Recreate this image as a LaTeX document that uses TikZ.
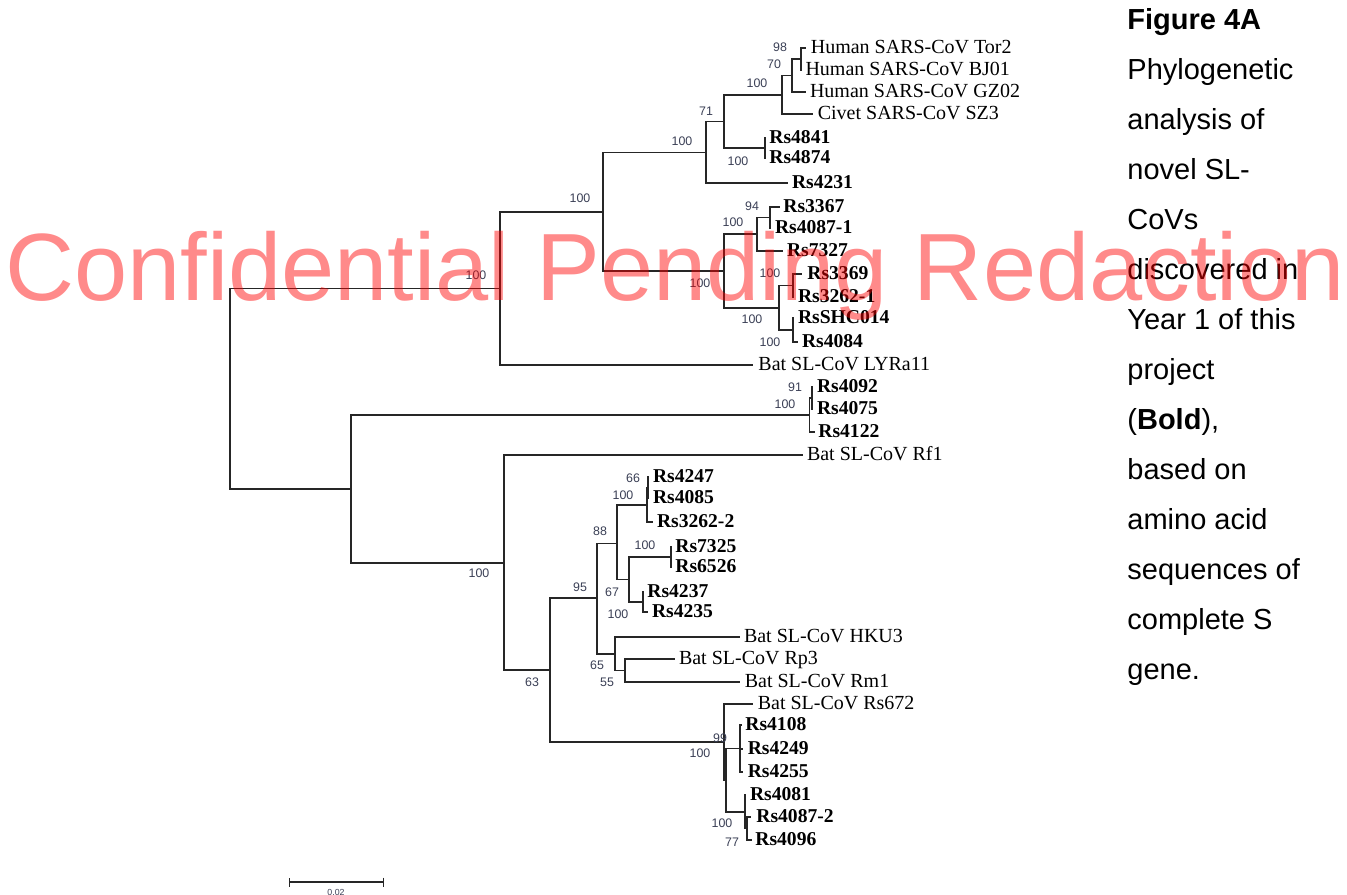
\documentclass[tikz,border=0pt]{standalone}
\usepackage{fontspec}
\setmainfont{Liberation Serif}
\setsansfont{Liberation Sans}
\usepackage{xcolor}
\definecolor{treeLine}{HTML}{262626}
\definecolor{bootGray}{HTML}{3A3F55}
\definecolor{markRed}{HTML}{FF0000}
\usetikzlibrary{arrows.meta,positioning}
\tikzset{
    branch/.style={
        draw=treeLine,
        line width=0.65pt
    },
    leaf/.style={
        anchor=west,
        inner sep=0pt,
        text height=5.7pt,
        text depth=0pt,
        font=\fontsize{10}{11}\selectfont
    },
    leafbold/.style={
        leaf,
        font=\fontsize{9.8}{11}\selectfont\bfseries
    },
    boot/.style={
        inner sep=0pt,
        text=bootGray,
        font=\sffamily\fontsize{6.2}{7}\selectfont
    },
    scalelbl/.style={
        inner sep=0pt,
        text=bootGray,
        font=\sffamily\fontsize{4.4}{5}\selectfont
    },
    caption/.style={
        anchor=north west,
        inner sep=0pt,
        align=left,
        font=\sffamily\fontsize{14.5}{25}\selectfont
    },
    watermark/.style={
        anchor=base west,
        inner sep=0pt,
        text=markRed,
        text opacity=0.46,
        font=\sffamily\fontsize{47.8}{50}\selectfont
    }
}

\begin{document}
\begin{tikzpicture}[x=0.5pt, y=-0.5pt]
    \useasboundingbox (0,0) rectangle (1347,894);

    % Inner nodes of the tree
    \coordinate (root) at (230,388.5);
    \coordinate (nA) at (500,288.5);
    \coordinate (nA1) at (603,212);
    \coordinate (nS) at (706,152.5);
    \coordinate (n71) at (724,121.5);
    \coordinate (nC) at (782,95);
    \coordinate (nH) at (792,75.5);
    \coordinate (nTB) at (801,59);
    \coordinate (nRs48) at (765,148);
    \coordinate (nR) at (724,271);
    \coordinate (n757) at (757,234);
    \coordinate (n770) at (770,217.5);
    \coordinate (n779) at (779,308);
    \coordinate (n793a) at (793,285.5);
    \coordinate (n793b) at (793,330);
    \coordinate (nB) at (351,489);
    \coordinate (n810) at (809.5,415);
    \coordinate (n812) at (812,398);
    \coordinate (n504) at (504,563);
    \coordinate (n550) at (550,670);
    \coordinate (n597) at (597,598);
    \coordinate (n617) at (617,543.5);
    \coordinate (n647) at (647,505);
    \coordinate (n648) at (648,487.5);
    \coordinate (n629) at (629,579.5);
    \coordinate (n671) at (671,557);
    \coordinate (n643) at (643,602);
    \coordinate (n615) at (615,654);
    \coordinate (n625) at (625,670.5);
    \coordinate (n724) at (724,742);
    \coordinate (n726) at (726,780);
    \coordinate (n740) at (740,748.5);
    \coordinate (n745) at (745,812);
    \coordinate (n747) at (747,828.5);

    % Tips
    \coordinate (tTor2) at (806,48);
    \coordinate (tBJ01) at (801.5,70);
    \coordinate (tGZ02) at (806,92);
    \coordinate (tSZ3) at (813,114);
    \coordinate (tRs4841) at (766,138);
    \coordinate (tRs4874) at (766,158);
    \coordinate (tRs4231) at (788,183);
    \coordinate (tRs3367) at (780,207);
    \coordinate (tRs4087a) at (771,228);
    \coordinate (tRs7327) at (783,251);
    \coordinate (tRs3369) at (802,274);
    \coordinate (tRs3262a) at (794,297);
    \coordinate (tRsSHC014) at (794,318);
    \coordinate (tRs4084) at (798,342);
    \coordinate (tLYRa11) at (753,365);
    \coordinate (tRs4092) at (813,387);
    \coordinate (tRs4075) at (813,409);
    \coordinate (tRs4122) at (815,432);
    \coordinate (tRf1) at (803,455);
    \coordinate (tRs4247) at (649,477);
    \coordinate (tRs4085) at (649,498);
    \coordinate (tRs3262b) at (653,522);
    \coordinate (tRs7325) at (672,547);
    \coordinate (tRs6526) at (672,567);
    \coordinate (tRs4237) at (644,592);
    \coordinate (tRs4235) at (648,612);
    \coordinate (tHKU3) at (740,637);
    \coordinate (tRp3) at (675,659);
    \coordinate (tRm1) at (740,682);
    \coordinate (tRs672) at (753,704);
    \coordinate (tRs4108) at (742,725);
    \coordinate (tRs4249) at (743,749);
    \coordinate (tRs4255) at (743,772);
    \coordinate (tRs4081) at (746,795);
    \coordinate (tRs4087b) at (751,817);
    \coordinate (tRs4096) at (752,840);

    % Leaf labels
    \node[leaf, right=2.2pt of tTor2] (Tor2) {Human SARS-CoV Tor2};
    \node[leaf, right=1.8pt of tBJ01] (BJ01) {Human SARS-CoV BJ01};
    \node[leaf, right=1.8pt of tGZ02] (GZ02) {Human SARS-CoV GZ02};
    \node[leaf, right=2.2pt of tSZ3] (SZ3) {Civet SARS-CoV SZ3};
    \node[leafbold, right=1.5pt of tRs4841] (Rs4841) {Rs4841};
    \node[leafbold, right=1.5pt of tRs4874] (Rs4874) {Rs4874};
    \node[leafbold, right=1.8pt of tRs4231] (Rs4231) {Rs4231};
    \node[leafbold, right=1.5pt of tRs3367] (Rs3367) {Rs3367};
    \node[leafbold, right=1.8pt of tRs4087a] (Rs4087a) {Rs4087-1};
    \node[leafbold, right=1.8pt of tRs7327] (Rs7327) {Rs7327};
    \node[leafbold, right=2.5pt of tRs3369] (Rs3369) {Rs3369};
    \node[leafbold, right=1.8pt of tRs3262a] (Rs3262a) {Rs3262-1};
    \node[leafbold, right=1.8pt of tRsSHC014] (RsSHC014) {RsSHC014};
    \node[leafbold, right=1.8pt of tRs4084] (Rs4084) {Rs4084};
    \node[leaf, right=2.5pt of tLYRa11] (LYRa11) {Bat SL-CoV LYRa11};
    \node[leafbold, right=1.8pt of tRs4092] (Rs4092) {Rs4092};
    \node[leafbold, right=1.8pt of tRs4075] (Rs4075) {Rs4075};
    \node[leafbold, right=1.5pt of tRs4122] (Rs4122) {Rs4122};
    \node[leaf, right=1.8pt of tRf1] (Rf1) {Bat SL-CoV Rf1};
    \node[leafbold, right=1.8pt of tRs4247] (Rs4247) {Rs4247};
    \node[leafbold, right=1.8pt of tRs4085] (Rs4085) {Rs4085};
    \node[leafbold, right=1.8pt of tRs3262b] (Rs3262b) {Rs3262-2};
    \node[leafbold, right=1.5pt of tRs7325] (Rs7325) {Rs7325};
    \node[leafbold, right=1.5pt of tRs6526] (Rs6526) {Rs6526};
    \node[leafbold, right=1.5pt of tRs4237] (Rs4237) {Rs4237};
    \node[leafbold, right=1.8pt of tRs4235] (Rs4235) {Rs4235};
    \node[leaf, right=1.8pt of tHKU3] (HKU3) {Bat SL-CoV HKU3};
    \node[leaf, right=1.8pt of tRp3] (Rp3) {Bat SL-CoV Rp3};
    \node[leaf, right=2.2pt of tRm1] (Rm1) {Bat SL-CoV Rm1};
    \node[leaf, right=2.2pt of tRs672] (Rs672) {Bat SL-CoV Rs672};
    \node[leafbold, right=1.5pt of tRs4108] (Rs4108) {Rs4108};
    \node[leafbold, right=2.2pt of tRs4249] (Rs4249) {Rs4249};
    \node[leafbold, right=2.2pt of tRs4255] (Rs4255) {Rs4255};
    \node[leafbold, right=1.8pt of tRs4081] (Rs4081) {Rs4081};
    \node[leafbold, right=2.5pt of tRs4087b] (Rs4087b) {Rs4087-2};
    \node[leafbold, right=1.5pt of tRs4096] (Rs4096) {Rs4096};

    % Branches
    \draw[branch] (root) |- (nA);
    \draw[branch] (root) |- (nB);
    \draw[branch] (nA) |- (nA1);
    \draw[branch] (nA) |- (tLYRa11);
    \draw[branch] (nA1) |- (nS);
    \draw[branch] (nA1) |- (nR);
    \draw[branch] (nS) |- (n71);
    \draw[branch] (nS) |- (tRs4231);
    \draw[branch] (n71) |- (nC);
    \draw[branch] (n71) |- (nRs48);
    \draw[branch] (nC) |- (nH);
    \draw[branch] (nC) |- (tSZ3);
    \draw[branch] (nH) |- (nTB);
    \draw[branch] (nH) |- (tGZ02);
    \draw[branch] (nTB) |- (tTor2);
    \draw[branch] (nTB) |- (tBJ01);
    \draw[branch] (nRs48) |- (tRs4841);
    \draw[branch] (nRs48) |- (tRs4874);
    \draw[branch] (nR) |- (n757);
    \draw[branch] (nR) |- (n779);
    \draw[branch] (n757) |- (n770);
    \draw[branch] (n757) |- (tRs7327);
    \draw[branch] (n770) |- (tRs3367);
    \draw[branch] (n770) |- (tRs4087a);
    \draw[branch] (n779) |- (n793a);
    \draw[branch] (n779) |- (n793b);
    \draw[branch] (n793a) |- (tRs3369);
    \draw[branch] (n793a) |- (tRs3262a);
    \draw[branch] (n793b) |- (tRsSHC014);
    \draw[branch] (n793b) |- (tRs4084);
    \draw[branch] (nB) |- (n810);
    \draw[branch] (nB) |- (n504);
    \draw[branch] (n810) |- (n812);
    \draw[branch] (n810) |- (tRs4122);
    \draw[branch] (n812) |- (tRs4092);
    \draw[branch] (n812) |- (tRs4075);
    \draw[branch] (n504) |- (tRf1);
    \draw[branch] (n504) |- (n550);
    \draw[branch] (n550) |- (n597);
    \draw[branch] (n550) |- (n724);
    \draw[branch] (n597) |- (n617);
    \draw[branch] (n597) |- (n615);
    \draw[branch] (n617) |- (n647);
    \draw[branch] (n617) |- (n629);
    \draw[branch] (n647) |- (n648);
    \draw[branch] (n647) |- (tRs3262b);
    \draw[branch] (n648) |- (tRs4247);
    \draw[branch] (n648) |- (tRs4085);
    \draw[branch] (n629) |- (n671);
    \draw[branch] (n629) |- (n643);
    \draw[branch] (n671) |- (tRs7325);
    \draw[branch] (n671) |- (tRs6526);
    \draw[branch] (n643) |- (tRs4237);
    \draw[branch] (n643) |- (tRs4235);
    \draw[branch] (n615) |- (tHKU3);
    \draw[branch] (n615) |- (n625);
    \draw[branch] (n625) |- (tRp3);
    \draw[branch] (n625) |- (tRm1);
    \draw[branch] (n724) |- (tRs672);
    \draw[branch] (n724) |- (n726);
    \draw[branch] (n726) |- (n740);
    \draw[branch] (n726) |- (n745);
    \draw[branch] (n740) |- (tRs4108);
    \draw[branch] (n740) |- (tRs4249);
    \draw[branch] (n740) |- (tRs4255);
    \draw[branch] (n745) |- (tRs4081);
    \draw[branch] (n745) |- (n747);
    \draw[branch] (n747) |- (tRs4087b);
    \draw[branch] (n747) |- (tRs4096);

    % Bootstrap values
    \node[boot] (b01) at (780,47) {98};
    \node[boot] (b02) at (774,64) {70};
    \node[boot] (b03) at (757,83) {100};
    \node[boot] (b04) at (706,111) {71};
    \node[boot] (b05) at (682,141) {100};
    \node[boot] (b06) at (738,161) {100};
    \node[boot] (b07) at (580,198) {100};
    \node[boot] (b08) at (752,206) {94};
    \node[boot] (b09) at (733,222) {100};
    \node[boot] (b10) at (770,273) {100};
    \node[boot] (b11) at (476,275) {100};
    \node[boot] (b12) at (700,283) {100};
    \node[boot] (b13) at (752,319) {100};
    \node[boot] (b14) at (770,342) {100};
    \node[boot] (b15) at (795,387) {91};
    \node[boot] (b16) at (785,404) {100};
    \node[boot] (b17) at (633,478) {66};
    \node[boot] (b18) at (623,495) {100};
    \node[boot] (b19) at (600,531) {88};
    \node[boot] (b20) at (645,545) {100};
    \node[boot] (b21) at (479,573) {100};
    \node[boot] (b22) at (580,587) {95};
    \node[boot] (b23) at (612,592) {67};
    \node[boot] (b24) at (618,614) {100};
    \node[boot] (b25) at (597,665) {65};
    \node[boot] (b26) at (532,682) {63};
    \node[boot] (b27) at (607,682) {55};
    \node[boot] (b28) at (720,738) {99};
    \node[boot] (b29) at (700,753) {100};
    \node[boot] (b30) at (722,823) {100};
    \node[boot] (b31) at (732,842) {77};

    % Scale bar
    \coordinate (sbL) at (289,882);
    \coordinate (sbR) at (384,882);
    \draw[branch, {Bar[width=4.5pt]}-{Bar[width=4.5pt]}] (sbL) -- (sbR);
    \node[scalelbl] (sblabel) at (336,892) {0.02};

    % Caption
    \node[caption] (capt) at (1127,8) {\textbf{Figure 4A}\\Phylogenetic\\analysis of\\novel SL-\\CoVs\\discovered in\\Year 1 of this\\project\\(\textbf{Bold}),\\based on\\amino acid\\sequences of\\complete S\\gene.};

    % Watermark
    \node[watermark] (wmark) at (5,300) {Confidential Pending Redaction};
\end{tikzpicture}
\end{document}
